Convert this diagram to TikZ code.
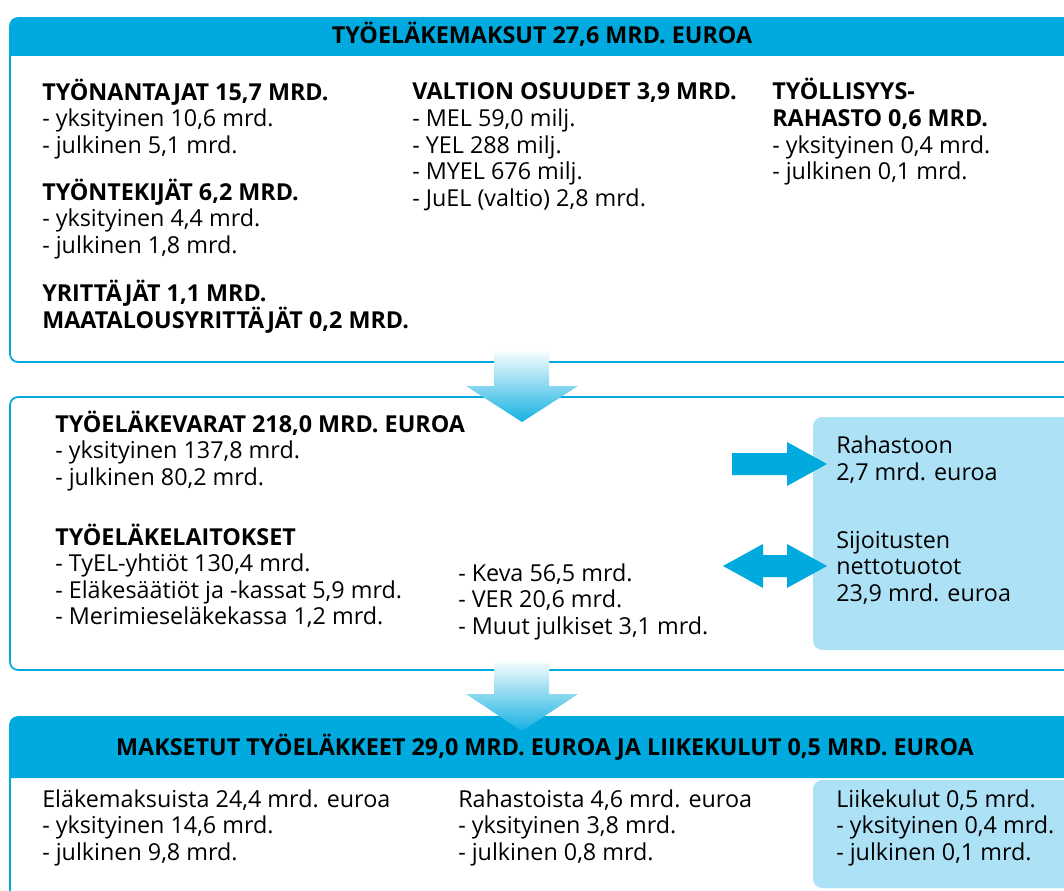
\documentclass[tikz,border=0pt]{standalone}
\usepackage{fontspec}
\setmainfont{Open Sans}
\usetikzlibrary{positioning}

\definecolor{tyelblue}{HTML}{00AADF}
\definecolor{tyellight}{HTML}{ADE1F5}

\begin{document}
\begin{tikzpicture}[x=0.75pt,y=-0.75pt,
frame/.style={draw=tyelblue, line width=1.3pt, rounded corners=6pt},
band/.style={fill=tyelblue},
sidebox/.style={fill=tyellight, rounded corners=7pt},
txt/.style={anchor=base west, inner sep=0pt, align=left, font=\fontsize{17.5}{19.9}\selectfont},
headline/.style={anchor=base, inner sep=0pt, font=\fontsize{17.5}{19.9}\selectfont\bfseries},
flow/.style={top color=tyelblue!4, bottom color=tyelblue!92},
sidearrow/.style={fill=tyelblue}
]
\useasboundingbox (0,0) rectangle (1064,891);
\clip (0,0) rectangle (1064,891);

% contributions
\fill[white] (10,18) rectangle (1080,362);
\fill[band] (10,56) [rounded corners=6pt] -- (10,18) -- (1080,18) [sharp corners] -- (1080,56) -- cycle;
\draw[frame] (10,18) rectangle (1080,362);
\node[headline] (contrib) at (542,44) {TYÖELÄKEMAKSUT 27,6 MRD. EUROA};

% multi-line nodes sit on the baseline of their last line
\node[txt] (employers) at (42,153.1) {\textbf{TYÖNANTAJAT 15,7 MRD.}\\- yksityinen 10,6 mrd.\\- julkinen 5,1 mrd.};
\node[txt] (employees) at (42,253.1) {\textbf{TYÖNTEKIJÄT 6,2 MRD.}\\- yksityinen 4,4 mrd.\\- julkinen 1,8 mrd.};
\node[txt] (entrepreneurs) at (42,328.5) {\textbf{YRITTÄJÄT 1,1 MRD.}\\\textbf{MAATALOUSYRITTÄJÄT 0,2 MRD.}};
\node[txt] (state) at (412,206.1) {\textbf{VALTION OSUUDET 3,9 MRD.}\\- MEL 59,0 milj.\\- YEL 288 milj.\\- MYEL 676 milj.\\- JuEL (valtio) 2,8 mrd.};
\node[txt] (fund) at (772,179.6) {\textbf{TYÖLLISYYS-}\\\textbf{RAHASTO 0,6 MRD.}\\- yksityinen 0,4 mrd.\\- julkinen 0,1 mrd.};

% assets
\draw[frame, fill=white] (10,397) rectangle (1080,670);
\fill[sidebox] (813,417) rectangle (1080,650);
\node[txt] (assets) at (55,485.1) {\textbf{TYÖELÄKEVARAT 218,0 MRD. EUROA}\\- yksityinen 137,8 mrd.\\- julkinen 80,2 mrd.};
\node[txt] (institutions) at (55,624.6) {\textbf{TYÖELÄKELAITOKSET}\\- TyEL-yhtiöt 130,4 mrd.\\- Eläkesäätiöt ja -kassat 5,9 mrd.\\- Merimieseläkekassa 1,2 mrd.};
\node[txt] (public) at (458,634.1) {- Keva 56,5 mrd.\\- VER 20,6 mrd.\\- Muut julkiset 3,1 mrd.};
\node[txt] (tofund) at (836,480.5) {Rahastoon\\2,7 mrd. euroa};
\node[txt] (returns) at (836,601.1) {Sijoitusten\\nettotuotot\\23,9 mrd. euroa};

\fill[sidearrow] (732,453) -- (787,453) -- (787,442) -- (827,464) -- (787,486) -- (787,475) -- (732,475) -- cycle;
\fill[sidearrow] (723,566) -- (763,544) -- (763,555) -- (787,555) -- (787,544) -- (827,566) -- (787,588) -- (787,577) -- (763,577) -- (763,588) -- cycle;

% payments
\fill[white] (10,717) rectangle (1080,900);
\fill[band] (10,778) [rounded corners=6pt] -- (10,717) -- (1080,717) [sharp corners] -- (1080,778) -- cycle;
\draw[frame] (10,717) rectangle (1080,910);
\fill[sidebox] (813,780) rectangle (1080,888);
\node[headline] (paid) at (545,755) {MAKSETUT TYÖELÄKKEET 29,0 MRD. EUROA JA LIIKEKULUT 0,5 MRD. EUROA};
\node[txt] (frompay) at (42,860.1) {Eläkemaksuista 24,4 mrd. euroa\\- yksityinen 14,6 mrd.\\- julkinen 9,8 mrd.};
\node[txt] (fromfund) at (458,860.1) {Rahastoista 4,6 mrd. euroa\\- yksityinen 3,8 mrd.\\- julkinen 0,8 mrd.};
\node[txt] (costs) at (836,860.1) {Liikekulut 0,5 mrd.\\- yksityinen 0,4 mrd.\\- julkinen 0,1 mrd.};

% flows between the boxes
\shade[flow] (494,352) -- (549,352) -- (549,386) -- (578,386) -- (522,422) -- (466,386) -- (494,386) -- cycle;
\shade[flow] (494,662) -- (549,662) -- (549,694) -- (578,694) -- (522,731) -- (466,694) -- (494,694) -- cycle;
\end{tikzpicture}
\end{document}
